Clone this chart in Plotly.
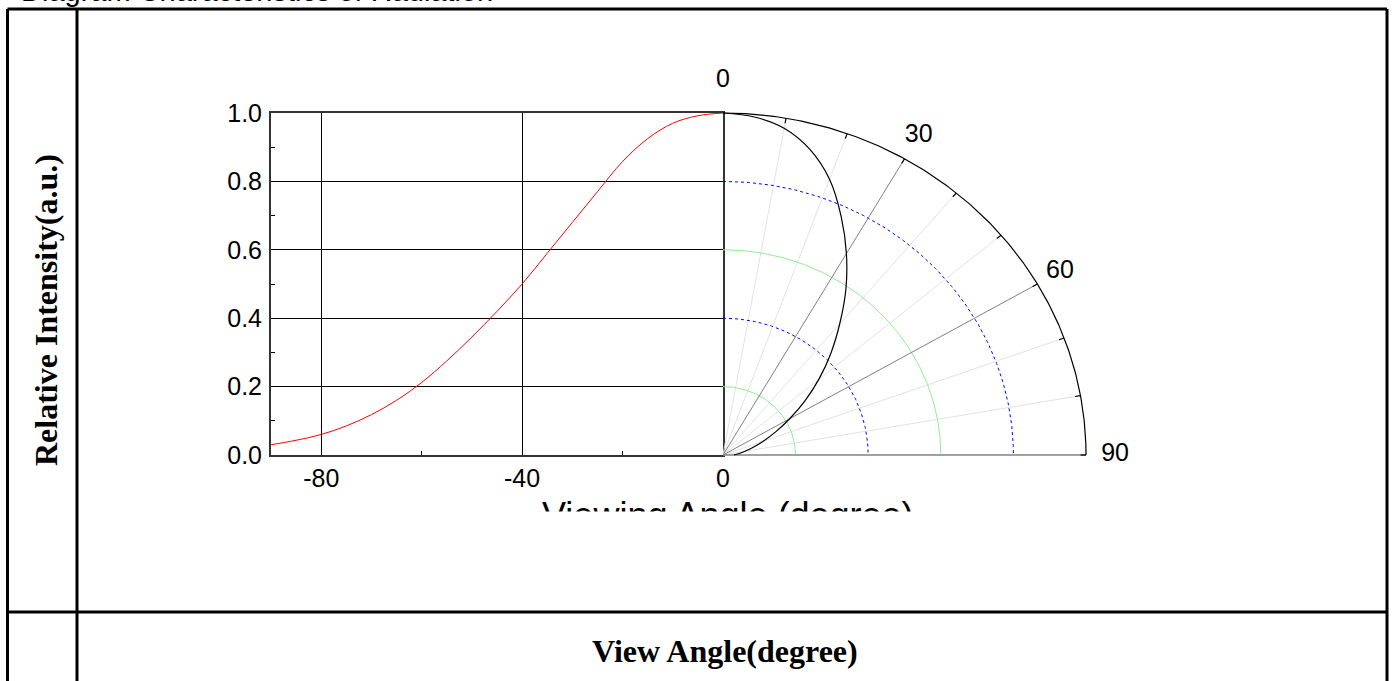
import numpy as np
import plotly.graph_objects as go

W, H = 1394, 681

# ---------------- data ----------------
angle_deg = [0, 5, 10, 15, 20, 25, 30, 35, 40, 45, 50, 55, 60, 65, 70, 75, 80, 85, 90]
intensity = [1.0, 0.992, 0.97, 0.925, 0.858, 0.77, 0.68, 0.59, 0.50, 0.42, 0.345,
             0.275, 0.212, 0.16, 0.118, 0.085, 0.06, 0.043, 0.03]

x_ticks = [-80, -40, 0]
x_minor = [-60, -20]
y_ticks = [0.0, 0.2, 0.4, 0.6, 0.8, 1.0]
y_ticktext = ["0.0", "0.2", "0.4", "0.6", "0.8", "1.0"]
y_minor = [0.1, 0.3, 0.5, 0.7, 0.9]

rings_blue = [0.4, 0.8]
rings_green = [0.2, 0.6]
spokes_major = [30, 60]
spokes_minor = [10, 20, 40, 50, 70, 80]
rim_ticks = [10, 20, 30, 40, 50, 60, 70, 80, 90]
polar_labels = [0, 30, 60, 90]
polar_label_r = [1.095, 1.078, 1.072, 1.08]

SANS = "Liberation Sans, Arial, sans-serif"
SERIF = "Liberation Serif, Times New Roman, serif"


def pxx(x):
    return x / W


def pxy(y):
    return 1 - y / H


fig = go.Figure()

# ---------- left cartesian curve ----------
fig.add_trace(go.Scatter(
    x=[-a for a in angle_deg], y=intensity, mode="lines",
    line=dict(color="#FF0000", width=1, shape="spline"),
    xaxis="x", yaxis="y", hoverinfo="skip", showlegend=False))

# ---------- polar quarter (drawn in a cartesian frame) ----------
arc_t = np.radians(np.linspace(0, 90, 181))


def add_arc(r, color, dash, width=1):
    fig.add_trace(go.Scatter(
        x=r * np.sin(arc_t), y=r * np.cos(arc_t), mode="lines",
        line=dict(color=color, width=width, dash=dash),
        xaxis="x2", yaxis="y2", hoverinfo="skip", showlegend=False))


for a in spokes_minor:
    t = np.radians(a)
    fig.add_trace(go.Scatter(
        x=[0, np.sin(t)], y=[0, np.cos(t)], mode="lines",
        line=dict(color="#E2E2E2", width=1),
        xaxis="x2", yaxis="y2", hoverinfo="skip", showlegend=False))

for r in rings_green:
    add_arc(r, "#90EE90", "solid")
for r in rings_blue:
    add_arc(r, "#0000FF", "dot")

for a in spokes_major:
    t = np.radians(a)
    fig.add_trace(go.Scatter(
        x=[0, np.sin(t)], y=[0, np.cos(t)], mode="lines",
        line=dict(color="#808080", width=1),
        xaxis="x2", yaxis="y2", hoverinfo="skip", showlegend=False))

# baseline (90 deg)
fig.add_trace(go.Scatter(
    x=[0, 1], y=[0, 0], mode="lines",
    line=dict(color="#808080", width=1.5),
    xaxis="x2", yaxis="y2", hoverinfo="skip", showlegend=False))

# outer rim
add_arc(1.0, "#000000", "solid", 1.2)

# rim ticks
tx, ty = [], []
for a in rim_ticks:
    t = np.radians(a)
    tx += [np.sin(t), 0.985 * np.sin(t), None]
    ty += [np.cos(t), 0.985 * np.cos(t), None]
fig.add_trace(go.Scatter(
    x=tx, y=ty, mode="lines", line=dict(color="#000000", width=1.2),
    xaxis="x2", yaxis="y2", hoverinfo="skip", showlegend=False))

# data curve in polar form
th = np.radians(angle_deg)
Iv = np.array(intensity)
fig.add_trace(go.Scatter(
    x=Iv * np.sin(th), y=Iv * np.cos(th), mode="lines",
    line=dict(color="#000000", width=1.2, shape="spline"),
    xaxis="x2", yaxis="y2", hoverinfo="skip", showlegend=False))

# angular labels
lt = np.radians(polar_labels)
lr = np.array(polar_label_r)
fig.add_trace(go.Scatter(
    x=lr * np.sin(lt), y=lr * np.cos(lt), mode="text",
    text=[str(v) for v in polar_labels], textposition="middle center",
    textfont=dict(family=SANS, size=25, color="#000000"),
    cliponaxis=False, xaxis="x2", yaxis="y2", hoverinfo="skip", showlegend=False))

# ---------- table borders ----------
LW = 3
shapes = []


def seg(x0, y0, x1, y1):
    shapes.append(dict(type="line", xref="paper", yref="paper",
                       x0=pxx(x0), y0=pxy(y0), x1=pxx(x1), y1=pxy(y1),
                       line=dict(color="#000000", width=LW)))


seg(7.5, 9, 1387, 9)
seg(7.5, 612, 1387, 612)
seg(7.5, 9, 7.5, 690)
seg(77, 9, 77, 690)
seg(1387, 9, 1387, 690)

annotations = [
    dict(text="Diagram Characteristics of Radiation", x=pxx(19), y=pxy(9),
         xref="paper", yref="paper", xanchor="left", yanchor="bottom",
         showarrow=False, font=dict(family=SANS, size=29, color="#000000")),
    dict(text="<b>Relative Intensity(a.u.)</b>", x=pxx(46), y=pxy(310),
         xref="paper", yref="paper", xanchor="center", yanchor="middle",
         textangle=-90, showarrow=False,
         font=dict(family=SERIF, size=32, color="#000000")),
    dict(text="<b>View Angle(degree)</b>", x=pxx(725), y=pxy(651),
         xref="paper", yref="paper", xanchor="center", yanchor="middle",
         showarrow=False, font=dict(family=SERIF, size=32, color="#000000")),
    dict(text="Viewing Angle (degree)", x=pxx(728), y=pxy(493),
         xref="paper", yref="paper", xanchor="center", yanchor="top",
         showarrow=False, font=dict(family=SANS, size=36, color="#000000")),
    # the chart image is cropped just below the top of the axis title
    dict(text=" ", x=pxx(728), y=pxy(510.5), xref="paper", yref="paper",
         xanchor="center", yanchor="top", width=520, height=50,
         bgcolor="#FFFFFF", borderpad=0, showarrow=False,
         font=dict(family=SANS, size=10)),
]

fig.update_layout(
    width=W, height=H,
    margin=dict(l=0, r=0, t=0, b=0, pad=0, autoexpand=False),
    paper_bgcolor="#FFFFFF", plot_bgcolor="rgba(0,0,0,0)",
    showlegend=False,
    shapes=shapes,
    annotations=annotations,
    xaxis=dict(
        domain=[pxx(271), pxx(723)], range=[-90, 0], anchor="y", automargin=False,
        tickmode="array", tickvals=x_ticks, ticktext=[str(v) for v in x_ticks],
        ticks="inside", ticklen=7, tickwidth=1, tickcolor="#000000",
        minor=dict(tickmode="array", tickvals=x_minor, ticks="inside", ticklen=4,
                   tickcolor="#000000", showgrid=False),
        showgrid=True, gridcolor="#000000", gridwidth=1,
        showline=True, linecolor="#333333", linewidth=2, mirror=True,
        zeroline=False,
        tickfont=dict(family=SANS, size=25, color="#000000"),
    ),
    yaxis=dict(
        domain=[pxy(455), pxy(113)], range=[0, 1], anchor="x", automargin=False,
        tickmode="array", tickvals=y_ticks, ticktext=y_ticktext,
        ticks="inside", ticklen=7, tickwidth=1, tickcolor="#000000",
        minor=dict(tickmode="array", tickvals=y_minor, ticks="inside", ticklen=4,
                   tickcolor="#000000", showgrid=False),
        showgrid=True, gridcolor="#000000", gridwidth=1,
        showline=True, linecolor="#333333", linewidth=2, mirror=True,
        zeroline=False, ticklabelstandoff=2,
        tickfont=dict(family=SANS, size=25, color="#000000"),
    ),
    xaxis2=dict(
        domain=[pxx(723), pxx(1150)], range=[0, (1150 - 723) / 363.0],
        anchor="y2", visible=False, fixedrange=True, automargin=False,
    ),
    yaxis2=dict(
        domain=[pxy(462), pxy(60)], range=[-7 / 342.0, (455 - 60) / 342.0],
        anchor="x2", visible=False, fixedrange=True, automargin=False,
    ),
)

# let the figure start at the page's top-left corner (no default body margin)
fig.write_html("out.html", config={"displayModeBar": False},
               post_script="document.body.style.margin='0px';")
